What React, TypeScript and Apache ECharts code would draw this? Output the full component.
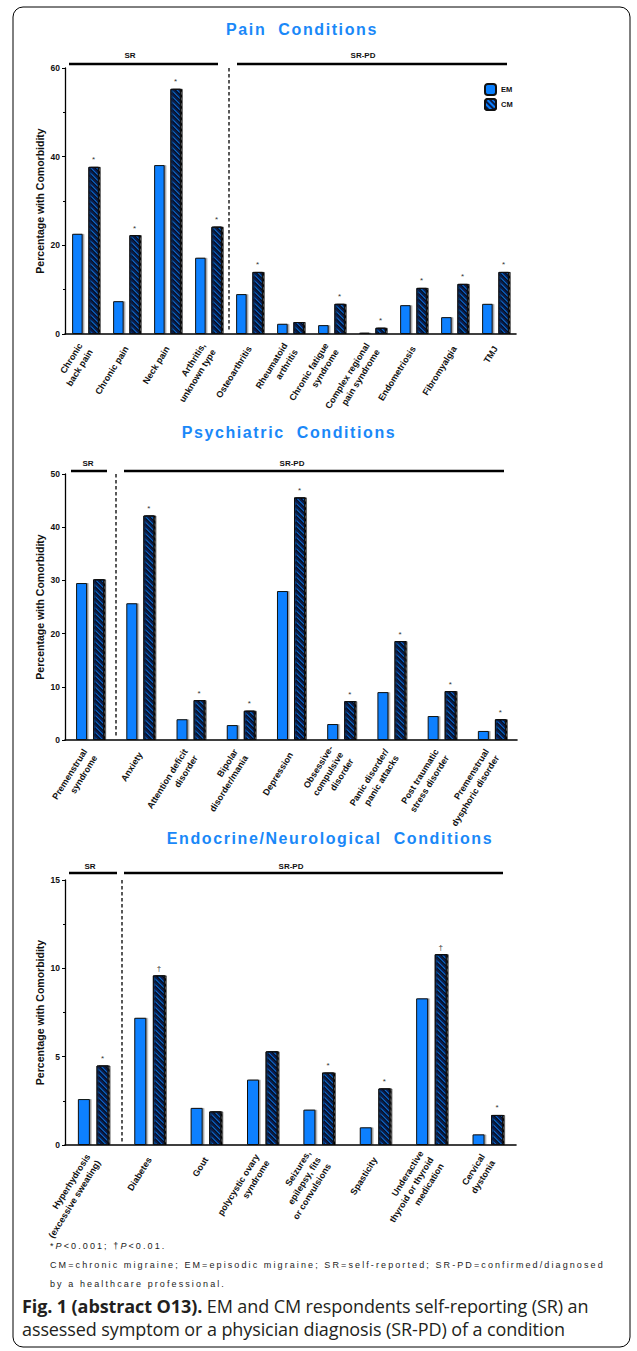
import React, { useEffect, useRef } from "react";
import * as echarts from "echarts";

const painCats = ["Chronic\nback pain", "Chronic pain", "Neck pain", "Arthritis,\nunknown type", "Osteoarthritis", "Rheumatoid\narthritis", "Chronic fatigue\nsyndrome", "Complex regional\npain syndrome", "Endometriosis", "Fibromyalgia", "TMJ"];
const painEM = [22.6, 7.4, 38.1, 17.2, 9.0, 2.3, 2.0, 0.3, 6.5, 3.8, 6.8];
const painCM = [37.7, 22.3, 55.3, 24.2, 14.0, 2.7, 6.8, 1.4, 10.4, 11.3, 14.0];
const painMarks = ["*", "*", "*", "*", "*", "", "*", "*", "*", "*", "*"];

const psychCats = ["Premenstrual\nsyndrome", "Anxiety", "Attention deficit\ndisorder", "Bipolar\ndisorder/mania", "Depression", "Obsessive-\ncompulsive\ndisorder", "Panic disorder/\npanic attacks", "Post traumatic\nstress disorder", "Premenstrual\ndysphoric disorder"];
const psychEM = [29.5, 25.7, 3.9, 2.8, 28.0, 3.0, 9.0, 4.5, 1.7];
const psychCM = [30.2, 42.2, 7.5, 5.5, 45.6, 7.3, 18.6, 9.2, 3.9];
const psychMarks = ["", "*", "*", "*", "*", "*", "*", "*", "*"];

const endoCats = ["Hyperhydrosis\n(excessive sweating)", "Diabetes", "Gout", "polycystic ovary\nsyndrome", "Seizures,\nepilepsy, fits\nor convulsions", "Spasticity", "Underactive\nthyroid or thyroid\nmedication", "Cervical\ndystonia"];
const endoEM = [2.6, 7.2, 2.1, 3.7, 2.0, 1.0, 8.3, 0.6];
const endoCM = [4.5, 9.6, 1.9, 5.3, 4.1, 3.2, 10.8, 1.7];
const endoMarks = ["*", "\u2020", "", "", "*", "*", "\u2020", "*"];

const titles = ["Pain  Conditions", "Psychiatric  Conditions", "Endocrine/Neurological  Conditions"];
const yMax = [60, 50, 15];
const yInterval = [20, 10, 5];
const yMinor = [true, false, true];

const BLUE = "#0a80ff";
const NAVY = "#0b1c46";
const FONT = "Liberation Sans";

export default function App() {
  const ref = useRef<HTMLDivElement>(null);
  useEffect(() => {
    if (!ref.current) return;
    const chart = echarts.init(ref.current, undefined, { renderer: "svg" });
    const cats = [painCats, psychCats, endoCats];
    const ems = [painEM, psychEM, endoEM];
    const cms = [painCM, psychCM, endoCM];
    const marks = [painMarks, psychMarks, endoMarks];
    const grids = [
      { left: 65, top: 68, width: 451, height: 266 },
      { left: 65, top: 474, width: 452, height: 266 },
      { left: 65, top: 880, width: 451, height: 265 },
    ];
    const barW = [10.5, 11, 12];
    const series: any[] = [];
    const baseItem = {
      color: BLUE,
      borderColor: "#111",
      borderWidth: 1,
      shadowColor: "rgba(0,0,0,0.4)",
      shadowOffsetX: 1.5,
      shadowBlur: 0,
    };
    for (let i = 0; i < 3; i++) {
      series.push({
        type: "bar",
        name: "EM",
        xAxisIndex: i,
        yAxisIndex: i,
        data: ems[i],
        barWidth: barW[i],
        barGap: "55%",
        itemStyle: { ...baseItem },
      });
      series.push({
        type: "bar",
        name: "CM",
        xAxisIndex: i,
        yAxisIndex: i,
        data: cms[i],
        barWidth: barW[i],
        barGap: "55%",
        itemStyle: {
          ...baseItem,
          decal: {
            symbol: "rect",
            symbolSize: 1,
            dashArrayX: [1, 0],
            dashArrayY: [1.6, 1.8],
            rotation: Math.PI / 4,
            color: NAVY,
          },
        },
        label: {
          show: true,
          position: "top",
          distance: 3,
          fontSize: 8,
          color: "#333",
          fontFamily: FONT,
          formatter: (p: any) => marks[i][p.dataIndex],
        },
      });
    }
    const txt = (x: number, y: number, text: string, size: number) => ({
      type: "text",
      x,
      y,
      style: {
        text,
        fontSize: size,
        fontWeight: "bold",
        fontFamily: FONT,
        fill: "#111",
        textAlign: "center",
        textVerticalAlign: "middle",
      },
    });
    const line = (x1: number, y1: number, x2: number, y2: number, dashed = false) => ({
      type: "line",
      shape: { x1, y1, x2, y2 },
      style: { stroke: "#000", lineWidth: dashed ? 1.3 : 2.3, lineDash: dashed ? [3.5, 2.5] : null },
    });
    const graphic: any[] = [
      {
        type: "rect",
        shape: { x: 13, y: 7, width: 617, height: 1340, r: 10 },
        style: { fill: "none", stroke: "#000", lineWidth: 1 },
      },
      // pain brackets
      txt(130, 55, "SR", 8),
      line(69, 64, 218, 64),
      txt(363, 55, "SR-PD", 8),
      line(237, 64, 507, 64),
      line(229, 68, 229, 332, true),
      // psych brackets
      txt(88, 463, "SR", 8),
      line(71, 471, 107, 471),
      txt(292, 463, "SR-PD", 8),
      line(124, 471, 504, 471),
      line(116, 474, 116, 738, true),
      // endo brackets
      txt(90, 866, "SR", 8),
      line(69, 873, 117, 873),
      txt(291, 866, "SR-PD", 8),
      line(124, 873, 503, 873),
      line(122, 880, 122, 1143, true),
    ];
    const option: any = {
      animation: false,
      grid: grids,
      legend: {
        data: ["EM", "CM"],
        orient: "vertical",
        left: 479,
        top: 78,
        itemWidth: 11,
        itemHeight: 11,
        itemGap: 2,
        textStyle: { fontSize: 7.5, fontWeight: "bold", fontFamily: FONT, color: "#111" },
      },
      xAxis: cats.map((c, i) => ({
        type: "category",
        gridIndex: i,
        data: c,
        axisLine: { lineStyle: { color: "#000", width: 1.6 } },
        axisTick: { show: false },
        axisLabel: {
          interval: 0,
          rotate: 58,
          fontSize: 9,
          fontWeight: "bold",
          fontFamily: FONT,
          color: "#111",
          margin: 13,
          lineHeight: 12,
        },
      })),
      yAxis: cats.map((c, i) => ({
        type: "value",
        gridIndex: i,
        min: 0,
        max: yMax[i],
        interval: yInterval[i],
        name: "Percentage with Comorbidity",
        nameLocation: "middle",
        nameGap: 20,
        nameMoveOverlap: false,
        nameTextStyle: { fontSize: 10.5, fontWeight: "bold", fontFamily: FONT, color: "#111" },
        axisLine: { show: true, lineStyle: { color: "#000", width: 1.3 } },
        axisTick: { show: true, length: 3, lineStyle: { color: "#000" } },
        minorTick: { show: yMinor[i], splitNumber: 2, length: 2, lineStyle: { color: "#000" } },
        splitLine: { show: false },
        axisLabel: { fontSize: 8.5, fontWeight: "bold", fontFamily: FONT, color: "#111", margin: 5 },
      })),
      series,
      graphic,
    };
    chart.setOption(option);
    return () => chart.dispose();
  }, []);
  const note: React.CSSProperties = {
    position: "absolute",
    left: 50,
    fontFamily: FONT,
    fontSize: 9,
    letterSpacing: "2.1px",
    color: "#222",
    lineHeight: "19px",
    whiteSpace: "nowrap",
  };
  const titleStyle = (cx: number, cy: number): React.CSSProperties => ({
    position: "absolute",
    left: cx,
    top: cy - 11,
    transform: "translateX(-50%)",
    fontFamily: FONT,
    fontWeight: "bold",
    fontSize: 16,
    lineHeight: "22px",
    letterSpacing: "1.6px",
    color: "#1a88f8",
    whiteSpace: "pre",
  });
  return (
    <div style={{ position: "fixed", left: 0, top: 0, width: 637, height: 1351, background: "#fff" }}>
      <div ref={ref} style={{ position: "absolute", left: 0, top: 0, width: 637, height: 1351 }} />
      <div style={titleStyle(302, 30)}>{titles[0]}</div>
      <div style={titleStyle(289, 433)}>{titles[1]}</div>
      <div style={titleStyle(330, 839)}>{titles[2]}</div>
      <div style={{ ...note, top: 1237 }}>
        *<i>P</i>&lt;0.001; †<i>P</i>&lt;0.01.
        <br />
        CM=chronic migraine; EM=episodic migraine; SR=self-reported; SR-PD=confirmed/diagnosed
        <br />
        by a healthcare professional.
      </div>
      <div
        style={{
          position: "absolute",
          left: 22,
          top: 1295,
          fontFamily: "Open Sans",
          fontSize: 18,
          lineHeight: "23px",
          color: "#231f20",
          whiteSpace: "nowrap",
          letterSpacing: "-0.1px",
        }}
      >
        <b>Fig. 1 (abstract O13).</b> EM and CM respondents self-reporting (SR) an
        <br />
        assessed symptom or a physician diagnosis (SR-PD) of a condition
      </div>
    </div>
  );
}
